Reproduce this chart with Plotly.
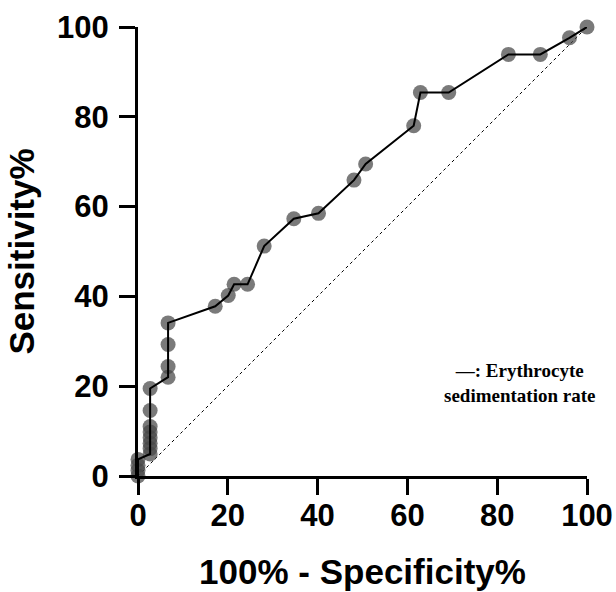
import plotly.graph_objects as go

# 100% - Specificity% (x) and Sensitivity% (y) for the ROC curve
fpr = [0, 0, 0, 0, 2.7, 2.7, 2.7, 2.7, 2.7, 2.7, 2.7, 2.7,
       6.7, 6.7, 6.7, 6.7, 17.2, 20.1, 21.4, 24.4, 28.1, 34.7, 40.2,
       48.1, 50.7, 61.4, 62.9, 69.2, 82.5, 89.6, 96.1, 100]
sens = [0, 1.2, 2.4, 3.7, 4.9, 6.1, 7.3, 8.5, 9.8, 11.0, 14.6, 19.5,
        22.0, 24.4, 29.3, 34.1, 37.8, 40.2, 42.7, 42.7, 51.2, 57.3, 58.5,
        65.9, 69.5, 78.0, 85.4, 85.4, 93.9, 93.9, 97.6, 100]
ref_x = [0, 100]
ref_y = [0, 100]
x_ticks = [0, 20, 40, 60, 80, 100]
y_ticks = [0, 20, 40, 60, 80, 100]
legend_text = "—: Erythrocyte<br>sedimentation rate"

fig = go.Figure()
fig.add_trace(go.Scatter(x=ref_x, y=ref_y, mode="lines",
                         line=dict(color="black", width=1, dash="dot"),
                         showlegend=False, hoverinfo="skip"))
fig.add_trace(go.Scatter(x=fpr, y=sens, mode="markers",
                         marker=dict(size=15, color="rgba(70,70,70,0.72)", line=dict(width=0)),
                         cliponaxis=False, showlegend=False))
fig.add_trace(go.Scatter(x=fpr, y=sens, mode="lines",
                         line=dict(color="black", width=2),
                         cliponaxis=False, showlegend=False))

axis_common = dict(
    range=[0, 100], showgrid=False, zeroline=False, automargin=False,
    showline=True, linecolor="black", linewidth=3,
    ticks="outside", ticklen=16, tickwidth=3, tickcolor="black",
    tickfont=dict(family="Liberation Sans, Arial", size=31, color="black", weight="bold"),
)
fig.update_xaxes(**axis_common, tickvals=x_ticks, ticklabelstandoff=-6,
                 title=dict(text="100% - Specificity%", standoff=28,
                            font=dict(family="Liberation Sans, Arial", size=35, color="black", weight="bold")))
fig.update_yaxes(**axis_common, tickvals=y_ticks, ticklabelstandoff=4,
                 title=dict(text="Sensitivity%", standoff=12,
                            font=dict(family="Liberation Sans, Arial", size=35, color="black", weight="bold")))

pw = 616 - 138 - 29
ph = 592 - 27 - 116
fig.add_annotation(x=(519 - 138) / pw, y=(592 - 116 - 383) / ph, xref="paper", yref="paper",
                   xanchor="center", yanchor="middle", text=legend_text,
                   showarrow=False, align="center",
                   font=dict(family="Liberation Serif, Times New Roman", size=19, color="black", weight="bold"))

fig.update_layout(width=616, height=592, margin=dict(l=138, r=29, t=27, b=116),
                  plot_bgcolor="white", paper_bgcolor="white")

fig.write_html("out.html", config={"displayModeBar": False},
               post_script="document.body.style.margin='0';document.body.style.overflow='hidden';")
